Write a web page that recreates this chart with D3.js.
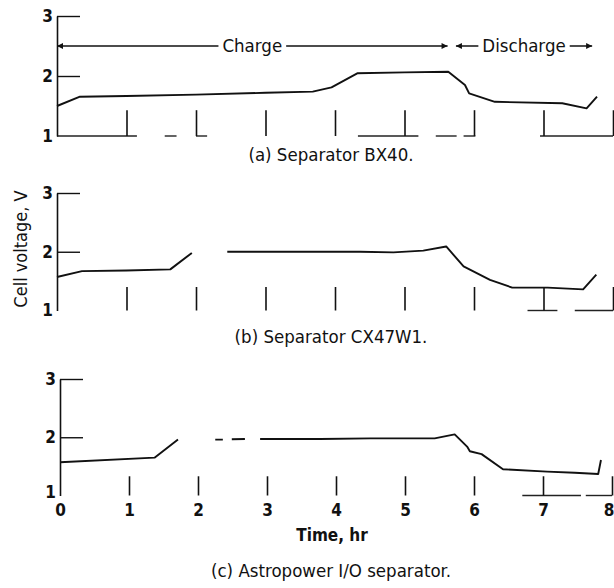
<!DOCTYPE html>
<html>
<head>
<meta charset="utf-8">
<script src="https://cdn.jsdelivr.net/npm/d3@7"></script>
<style>
  body { margin: 0; background: #fff; }
  svg { display: block; font-family: "Liberation Sans Narrow", "DejaVu Sans Condensed", "DejaVu Sans", sans-serif; }
</style>
</head>
<body>
<svg id="chart" width="614" height="588"></svg>
<script>
const hourTicks = [0, 1, 2, 3, 4, 5, 6, 7, 8];
const voltTicks = [1, 2, 3];

// (a) separator BX40
const timeA = [0, 0.33, 1, 2, 3, 3.68, 3.95, 4.32, 5.0, 5.63, 5.87, 5.93, 6.3, 7.27, 7.62, 7.77];
const voltA = [1.5, 1.655, 1.667, 1.69, 1.72, 1.74, 1.81, 2.045, 2.06, 2.07, 1.85, 1.71, 1.57, 1.545, 1.46, 1.655];

// (b) separator CX47W1 (null = gap in the scan)
const timeB = [0, 0.36, 1.0, 1.63, 1.94, 2.2, 2.45, 3.5, 4.36, 4.84, 5.27, 5.6, 5.85, 6.23, 6.55, 7.06, 7.57, 7.76];
const voltB = [1.57, 1.67, 1.68, 1.70, 1.98, null, 2.0, 2.0, 2.0, 1.99, 2.02, 2.09, 1.75, 1.52, 1.39, 1.39, 1.36, 1.61];

// (c) Astropower I/O separator
const timeC = [0, 1.37, 1.71, 2.0, 2.25, 2.36, 2.42, 2.49, 2.68, 2.8, 2.9, 3.77, 4.5, 5.43, 5.72, 5.9, 5.94, 6.11, 6.42, 7.06, 7.46, 7.8, 7.84];
const voltC = [1.57, 1.65, 1.96, null, 1.96, 1.96, null, 1.965, 1.97, null, 1.97, 1.97, 1.98, 1.98, 2.05, 1.84, 1.76, 1.71, 1.45, 1.41, 1.39, 1.37, 1.61];

// pieces of the baseline that survived the scan, in hours
const baseA = [[0, 1.15], [1.55, 1.72], [2.0, 2.16], [4.33, 5.2], [5.45, 5.75], [5.85, 6.02], [6.95, 8]];
const baseB = [[6.77, 7.2], [7.45, 8]];
const baseC = [[6.7, 7.55], [7.62, 8]];

const phaseNames = ["Charge", "Discharge"];
const phaseStart = [0, 5.74];
const phaseEnd = [5.62, 7.7];

const captions = ["(a) Separator BX40.", "(b) Separator CX47W1.", "(c) Astropower I/O separator."];

const svg = d3.select("#chart");

const defs = svg.append("defs");
defs.append("marker")
  .attr("id", "head")
  .attr("viewBox", "0 0 10 10")
  .attr("refX", 10)
  .attr("refY", 5)
  .attr("markerWidth", 9)
  .attr("markerHeight", 6)
  .attr("markerUnits", "userSpaceOnUse")
  .attr("orient", "auto-start-reverse")
  .append("path")
  .attr("d", "M0,0L10,5L0,10Z")
  .attr("fill", "#111");

const panels = [
  { time: timeA, volt: voltA, base: baseA, tickTop: 1.43, xr: [57, 613], yr: [136, 16], capY: 161 },
  { time: timeB, volt: voltB, base: baseB, tickTop: 1.40, xr: [57, 613], yr: [310.5, 193], capY: 343 },
  { time: timeC, volt: voltC, base: baseC, tickTop: 1.33, xr: [60, 612], yr: [495.5, 379], capY: 577 },
];

function drawPanel(p, i) {
  const x = d3.scaleLinear().domain([0, 8]).range(p.xr);
  const y = d3.scaleLinear().domain([1, 3]).range(p.yr);
  const g = svg.append("g");
  const last = i === panels.length - 1;

  g.selectAll("line.base")
    .data(p.base)
    .enter()
    .append("line")
    .attr("class", "base")
    .attr("x1", (d) => x(d[0]))
    .attr("x2", (d) => x(d[1]))
    .attr("y1", y(1))
    .attr("y2", y(1))
    .attr("stroke", "#222")
    .attr("stroke-width", 1.4);

  const xAxis = d3.axisBottom(x)
    .tickValues(hourTicks)
    .tickSizeInner(-(y(1) - y(p.tickTop)))
    .tickSizeOuter(0)
    .tickPadding(8);
  if (!last) xAxis.tickFormat("");

  const gx = g.append("g")
    .attr("transform", `translate(0,${y(1)})`)
    .call(xAxis)
    .attr("font-family", null)
    .attr("font-size", 17);
  gx.select(".domain").remove();
  gx.selectAll(".tick line").attr("stroke", "#111").attr("stroke-width", 1.6)
    .filter((d) => d === 0).remove();
  gx.selectAll(".tick text").attr("fill", "#111").attr("font-weight", 600);
  // the 8 sits on the page edge; keep it whole
  gx.selectAll(".tick text").filter((d) => d === 8)
    .attr("text-anchor", "end").attr("x", 2);

  const yAxis = d3.axisLeft(y)
    .tickValues(voltTicks)
    .tickSizeInner(-23)
    .tickSizeOuter(0)
    .tickPadding(4)
    .tickFormat(d3.format("d"));

  const gy = g.append("g")
    .call(yAxis)
    .attr("transform", `translate(${p.xr[0]},0)`)
    .attr("font-family", null)
    .attr("font-size", 17);
  gy.select(".domain").attr("stroke", "#111").attr("stroke-width", 1.6);
  gy.selectAll(".tick line").attr("stroke", "#111").attr("stroke-width", 1.4)
    .filter((d) => d === 1).remove();
  gy.selectAll(".tick text").attr("fill", "#111").attr("font-weight", 600);
  if (last) gy.selectAll(".tick text").filter((d) => d === 1).attr("dy", "0.1em");

  const line = d3.line()
    .defined((d, k) => p.volt[k] !== null)
    .x((d) => x(d))
    .y((d, k) => y(p.volt[k]));

  g.append("path")
    .attr("d", line(p.time))
    .attr("fill", "none")
    .attr("stroke", "#111")
    .attr("stroke-width", 1.9)
    .attr("stroke-linejoin", "round");

  g.append("text")
    .attr("x", 331)
    .attr("y", p.capY)
    .attr("text-anchor", "middle")
    .attr("font-size", 18.5)
    .attr("fill", "#111")
    .text(captions[i]);

  if (i === 0) drawPhases(g, x, y);
  if (last) {
    g.append("text")
      .attr("x", 332)
      .attr("y", 541)
      .attr("text-anchor", "middle")
      .attr("font-size", 17)
      .attr("font-weight", 600)
      .attr("fill", "#111")
      .text("Time, hr");
  }
}

function drawPhases(g, x, y) {
  const level = y(2.5);
  phaseNames.forEach((name, k) => {
    g.append("line")
      .attr("x1", x(phaseStart[k]))
      .attr("x2", x(phaseEnd[k]))
      .attr("y1", level)
      .attr("y2", level)
      .attr("stroke", "#111")
      .attr("stroke-width", 1.3)
      .attr("marker-start", "url(#head)")
      .attr("marker-end", "url(#head)");

    const label = g.append("text")
      .attr("x", (x(phaseStart[k]) + x(phaseEnd[k])) / 2)
      .attr("y", level)
      .attr("dy", "0.35em")
      .attr("text-anchor", "middle")
      .attr("font-size", 18.5)
      .attr("fill", "#111")
      .text(name);
    const box = label.node().getBBox();
    g.insert("rect", () => label.node())
      .attr("x", box.x - 4)
      .attr("y", box.y)
      .attr("width", box.width + 8)
      .attr("height", box.height)
      .attr("fill", "#fff");
  });
}

panels.forEach(drawPanel);

svg.append("text")
  .attr("transform", "translate(27,249) rotate(-90)")
  .attr("text-anchor", "middle")
  .attr("font-size", 18)
  .attr("fill", "#111")
  .text("Cell voltage, V");
</script>
</body>
</html>
